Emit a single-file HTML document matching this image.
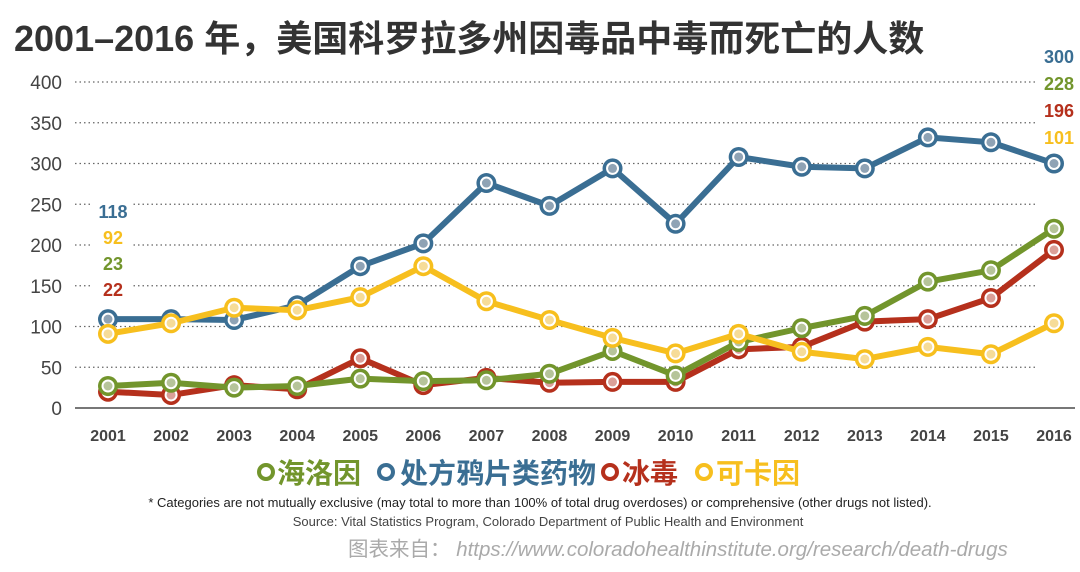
<!DOCTYPE html>
<html><head><meta charset="utf-8"><style>
body{margin:0;background:#fff;}
svg{display:block;font-family:"Liberation Sans","Noto Sans CJK SC",sans-serif;}
</style></head><body>
<svg id="chart" width="1080" height="572" viewBox="0 0 1080 572">
<text x="14" y="51" font-size="36" font-weight="bold" fill="#333" font-family="Liberation Sans, Noto Sans CJK SC, sans-serif">2001–2016 年，美国科罗拉多州因毒品中毒而死亡的人数</text>
<g id="grid"></g>
<g id="series"></g>
<g id="labels"></g>
<g font-size="28" font-weight="bold">
<circle cx="266" cy="472" r="7" fill="#fff" stroke="#72952c" stroke-width="4"/>
<text x="277" y="483" fill="#72952c">海洛因</text>
<circle cx="386" cy="472" r="7" fill="#fff" stroke="#3a6e93" stroke-width="4"/>
<text x="400" y="483" fill="#3a6e93">处方鸦片类药物</text>
<circle cx="610" cy="472" r="7" fill="#fff" stroke="#b5301c" stroke-width="4"/>
<text x="622" y="483" fill="#b5301c">冰毒</text>
<circle cx="704" cy="472" r="7" fill="#fff" stroke="#f7bf1e" stroke-width="4"/>
<text x="716" y="483" fill="#f7bf1e">可卡因</text>
</g>
<text x="540" y="507" font-size="13" fill="#222" text-anchor="middle">* Categories are not mutually exclusive (may total to more than 100% of total drug overdoses) or comprehensive (other drugs not listed).</text>
<text x="548" y="526" font-size="13" fill="#444" text-anchor="middle">Source: Vital Statistics Program, Colorado Department of Public Health and Environment</text>
<text x="348" y="556" font-size="20.5" fill="#aaa">图表来自： <tspan font-style="italic">https://www.coloradohealthinstitute.org/research/death-drugs</tspan></text>
</svg>
<script>
const years=[2001,2002,2003,2004,2005,2006,2007,2008,2009,2010,2011,2012,2013,2014,2015,2016];
const yTicks=[0,50,100,150,200,250,300,350,400];
const opioids=[109,109,108,126,174,202,276,248,294,226,308,296,294,332,326,300];
const cocaine=[91,104,123,120,136,174,131,108,86,67,91,69,60,75,66,104];
const heroin=[27,31,25,27,36,33,34,42,70,40,81,98,113,155,169,220];
const meth=[20,16,28,23,61,28,37,31,32,32,72,75,106,109,135,194];
const startLabels=['118','92','23','22'];
const endLabels=['300','228','196','101'];
const NS='http://www.w3.org/2000/svg';
const xS=i=>108+i*(1054-108)/(years.length-1);
const yS=v=>408-v*0.815;
function mk(t,a,p){const e=document.createElementNS(NS,t);for(const k in a)e.setAttribute(k,a[k]);p.appendChild(e);return e;}
const grid=document.getElementById('grid');
yTicks.forEach(v=>{
  const y=yS(v);
  let l=mk('line',{x1:75,x2:v===0?1075:1038,y1:y,y2:y,stroke:v===0?'#777':'#666','stroke-width':v===0?2:1.3,'stroke-dasharray':v===0?'':'1.5 3'},grid);
  
  
  let t=mk('text',{x:62,y:y+7,'font-size':19,fill:'#444','text-anchor':'end'},grid);
  t.textContent=v;
  
  
});
years.forEach((yr,i)=>{
  let t=mk('text',{x:xS(i),y:441,'font-size':16,'font-weight':'bold',fill:'#444','text-anchor':'middle'},grid);
  t.textContent=yr;
  
  
});
const series=[['opioids',opioids,'#3a6e93','#8fa3b5'],['cocaine',cocaine,'#f7bf1e','#f6dc98'],['heroin',heroin,'#72952c','#b6c49a'],['meth',meth,'#b5301c','#dba098']];
const sg=document.getElementById('series');
[series[0],series[3],series[2],series[1]].forEach(([n,d,c,lc])=>{
  const g=mk('g',{},sg);
  
  
  const p=mk('polyline',{points:d.map((v,i)=>xS(i)+','+yS(v)).join(' '),fill:'none',stroke:c,'stroke-width':6,'stroke-linejoin':'round'},g);
  
  
  d.forEach((v,i)=>{
    const pg=mk('g',{},g);
    
    
    mk('circle',{cx:xS(i),cy:yS(v),r:10,fill:c},pg);
    mk('circle',{cx:xS(i),cy:yS(v),r:6.5,fill:'#fff'},pg);
    mk('circle',{cx:xS(i),cy:yS(v),r:4.5,fill:lc},pg);
  });
});
const lg=document.getElementById('labels');
const lc=['#3a6e93','#f7bf1e','#72952c','#b5301c'];
startLabels.forEach((s,i)=>{
  mk('rect',{x:92,y:198+i*26,width:40,height:24,fill:'#fff'},lg);
  const t=mk('text',{x:113,y:218+i*26,'font-size':18,'font-weight':'bold',fill:lc[i],'text-anchor':'middle'},lg);
  t.textContent=s;
  
  
});
const ec=['#3a6e93','#72952c','#b5301c','#f7bf1e'];
endLabels.forEach((s,i)=>{
  mk('rect',{x:1036,y:44+i*27,width:44,height:24,fill:'#fff'},lg);
  const t=mk('text',{x:1074,y:63+i*27,'font-size':18,'font-weight':'bold',fill:ec[i],'text-anchor':'end'},lg);
  t.textContent=s;
  
  
});
</script>
</body></html>
